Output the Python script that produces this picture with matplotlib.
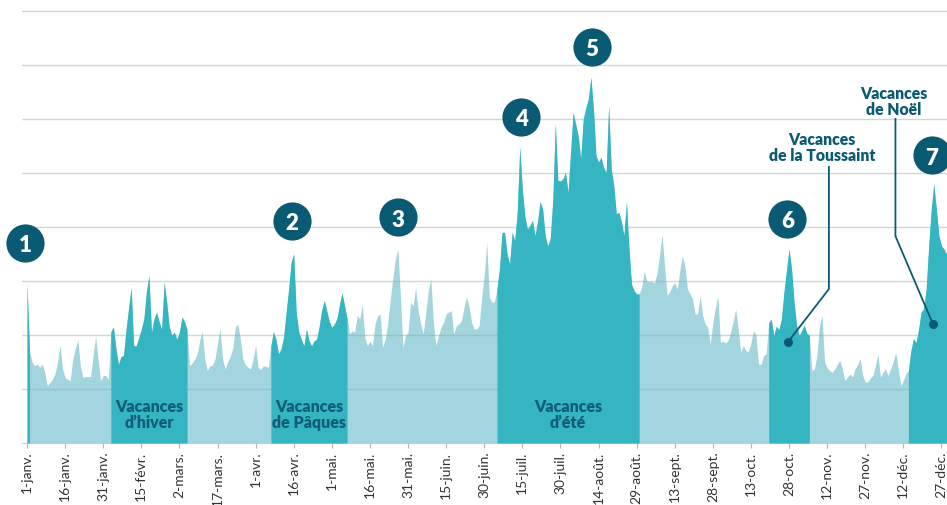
"""Daily attendance curve over one year with school holidays highlighted."""

import numpy as np
import matplotlib
matplotlib.use("Agg", force=True)

import matplotlib.pyplot as plt
from matplotlib.transforms import offset_copy

plt.rcParams["font.family"] = ["Lato", "DejaVu Sans"]

# Daily values (one per day, 1 Jan -> 31 Dec)
jan = [29.5, 17.0, 15.0, 14.3, 14.6, 14.0, 14.6, 13.1, 10.6, 11.2, 11.8, 12.8, 14.9, 18.1, 13.7, 12.1,
       11.8, 11.5, 15.5, 17.4, 19.2, 14.3, 12.1, 12.3, 12.3, 12.3, 16.1, 19.8, 15.5, 11.5, 12.5]
feb = [12.5, 11.8, 20.6, 21.5, 17.5, 14.5, 16.0, 16.2, 21.0, 25.0, 28.8, 18.0, 18.0, 19.5,
       21.0, 23.0, 28.0, 31.0, 20.5, 23.0, 24.2, 22.5, 21.0, 29.8, 26.0, 21.5, 20.0, 20.5]
mar = [19.2, 20.5, 23.3, 22.5, 21.0, 14.3, 14.8, 15.5, 16.5, 19.0, 20.7, 15.5, 13.4, 14.3, 14.4, 15.5,
       18.5, 21.2, 15.5, 13.7, 15.0, 16.0, 17.5, 21.4, 22.0, 19.2, 15.5, 14.5, 14.0, 13.7, 15.5]
apr = [18.1, 14.0, 13.6, 14.3, 14.2, 14.0, 18.0, 20.6, 19.2, 16.5, 17.4, 19.5, 24.0, 28.5, 33.5,
       35.0, 24.0, 20.5, 19.2, 18.0, 21.1, 19.0, 18.0, 18.9, 19.2, 21.5, 24.5, 26.4, 24.5, 22.5]
may = [21.4, 22.0, 23.0, 25.5, 27.8, 25.5, 23.0, 20.2, 20.8, 20.5, 23.6, 23.0, 25.6, 19.5, 18.0, 18.9,
       18.0, 22.0, 23.5, 23.9, 17.7, 19.3, 22.0, 26.5, 30.4, 34.0, 35.9, 27.3, 17.7, 19.9, 20.5]
jun = [26.0, 25.4, 28.8, 24.5, 22.0, 20.2, 24.2, 28.2, 30.4, 22.3, 18.0, 19.9, 21.5, 22.3, 23.9,
       24.2, 24.5, 20.2, 21.7, 22.0, 22.6, 25.0, 27.0, 25.4, 22.4, 21.1, 21.1, 21.7, 27.0, 31.0]
jul = [37.2, 27.0, 26.1, 26.1, 28.5, 32.2, 39.0, 39.0, 35.0, 33.1, 39.0, 37.5, 42.7, 54.8, 47.0, 42.0,
       39.6, 40.3, 41.2, 38.4, 41.0, 44.7, 43.3, 38.4, 36.5, 37.8, 45.0, 59.1, 48.6, 48.5, 48.9]
aug = [50.1, 46.4, 53.8, 61.2, 59.0, 56.9, 52.6, 60.0, 62.0, 63.7, 67.7, 61.9, 53.2, 52.0, 52.9, 51.0,
       50.1, 62.5, 50.7, 47.7, 42.4, 42.7, 41.0, 38.4, 44.6, 35.9, 29.4, 28.2, 27.6, 27.6, 28.8]
sep = [31.9, 29.9, 29.9, 29.9, 29.6, 31.3, 34.7, 38.7, 32.8, 27.3, 28.0, 29.1, 29.7, 28.5, 31.9,
       34.7, 32.8, 28.5, 27.6, 26.7, 23.9, 23.9, 27.2, 23.6, 22.0, 21.4, 18.3, 22.3, 25.0, 27.2]
oct_ = [18.6, 18.9, 18.5, 19.0, 20.5, 22.5, 24.8, 21.1, 16.8, 18.0, 17.1, 16.9, 18.5, 20.8, 19.9, 14.6,
        14.6, 16.2, 16.5, 22.3, 22.9, 19.9, 21.6, 21.0, 22.9, 27.9, 32.0, 35.9, 32.2, 26.0, 21.7]
nov = [19.9, 20.8, 21.8, 20.3, 20.0, 13.4, 13.7, 16.2, 21.7, 23.6, 15.0, 14.0, 13.4, 13.1, 13.7,
       14.5, 15.3, 13.7, 11.6, 12.2, 12.8, 12.2, 13.7, 14.5, 15.6, 12.5, 11.3, 11.3, 12.0, 12.5]
dec = [14.3, 16.5, 12.2, 13.1, 13.7, 12.5, 13.7, 15.0, 16.8, 13.7, 10.6, 11.6, 12.8, 13.4, 17.1, 19.3,
       18.6, 21.0, 24.2, 24.8, 28.5, 36.5, 43.3, 48.0, 43.3, 38.4, 36.5, 35.9, 35.0, 34.0, 33.0]

# School holidays as (first day, last day) of the year
vac_start = [0, 33, 96, 185, 292, 347]
vac_end = [1, 63, 126, 241, 308, 364]
vac_labels = {1: "Vacances\nd\u2019hiver", 2: "Vacances\nde P\u00e2ques", 3: "Vacances\nd\u2019\u00e9t\u00e9"}

tick_labels = ["1-janv.", "16-janv.", "31-janv.", "15-f\u00e9vr.", "2-mars.", "17-mars.", "1-avr.",
               "16-avr.", "1-mai.", "16-mai.", "31-mai.", "15-juin.", "30-juin.", "15-juil.",
               "30-juil.", "14-ao\u00fbt.", "29-ao\u00fbt.", "13-sept.", "28-sept.", "13-oct.",
               "28-oct.", "12-nov.", "27-nov.", "12-d\u00e9c.", "27-d\u00e9c."]

# Numbered peaks: day of the peak and how far above it the bubble sits (points)
peak_days = [0, 105, 146, 194, 222, 300, 357]
bubble_dx = [-1.4, -1.2, 0.0, 0.9, 0.8, -1.1, -1.3]
bubble_dy = [29.5, 23.8, 23.1, 21.7, 21.9, 22.0, 20.4]

LIGHT = "#a2d5dd"
DARK = "#35b4c2"
NAVY = "#0b5a74"

values = np.array(jan + feb + mar + apr + may + jun + jul + aug + sep + oct_ + nov + dec)
days = np.arange(len(values))

fig = plt.figure(figsize=(9.47, 5.06), dpi=100)
ax = fig.add_axes([22 / 947, 62 / 506, 925 / 947, 444 / 506])

# base area, then gridlines, then holidays on top
ax.fill_between(days, values, color=LIGHT, lw=0, zorder=1)
for y in range(10, 90, 10):
    ax.axhline(y, color="#98a8ac", alpha=0.45, lw=1, zorder=1.5)
for s, e in zip(vac_start, vac_end):
    ax.fill_between(days[s:e + 1], values[s:e + 1], color=DARK, lw=0, zorder=2)

for i, text in vac_labels.items():
    mid = (vac_start[i] + vac_end[i]) / 2
    ax.text(mid, 5.4, text, ha="center", va="center", fontsize=11.5, fontweight="heavy",
            color="#105d77", linespacing=1.0, zorder=3)

# numbered bubbles over the peaks
for n, (d, dx, dy) in enumerate(zip(peak_days, bubble_dx, bubble_dy), start=1):
    trans = offset_copy(ax.transData, fig=fig, x=dx, y=dy, units="points")
    ax.plot(d, values[d], "o", ms=27.5, color=NAVY, mec="none", transform=trans,
            clip_on=False, zorder=5)
    ax.text(d, values[d], str(n), transform=trans, ha="center", va="center_baseline",
            fontsize=16, fontweight="heavy", color="white", clip_on=False, zorder=6)

# callouts
ax.plot([315.7, 315.7, 299.6], [51.1, 28.5, 18.7], color=NAVY, lw=1.3, zorder=4)
ax.plot(299.6, 18.7, "o", ms=5.5, color=NAVY, zorder=4)
ax.text(313, 54.8, "Vacances\nde la Toussaint", ha="center", va="center", fontsize=11.3,
        fontweight="heavy", color=NAVY, linespacing=1.0, zorder=4)
ax.plot([341.9, 341.9, 356.7], [60.0, 38.3, 22.0], color=NAVY, lw=1.3, zorder=4)
ax.plot(356.7, 22.0, "o", ms=5.5, color=NAVY, zorder=4)
ax.text(341.3, 63.3, "Vacances\nde No\u00ebl", ha="center", va="center", fontsize=11.3,
        fontweight="heavy", color=NAVY, linespacing=1.0, zorder=4)

ax.set_xlim(-1.97, 362.2)
ax.set_ylim(0, 82.2)
ax.set_xticks(days[::15][:len(tick_labels)])
ax.set_xticklabels(tick_labels, rotation=90, fontsize=10, color="#333333")
ax.tick_params(axis="x", length=3.5, width=0.8, color="#b5b5b5", pad=2)
ax.set_yticks([])
for side in ["top", "right", "left"]:
    ax.spines[side].set_visible(False)
ax.spines["bottom"].set_color("#d0d0d0")
ax.spines["bottom"].set_zorder(0)

fig.savefig("out.png", dpi=100, facecolor="white")
plt.close(fig)
